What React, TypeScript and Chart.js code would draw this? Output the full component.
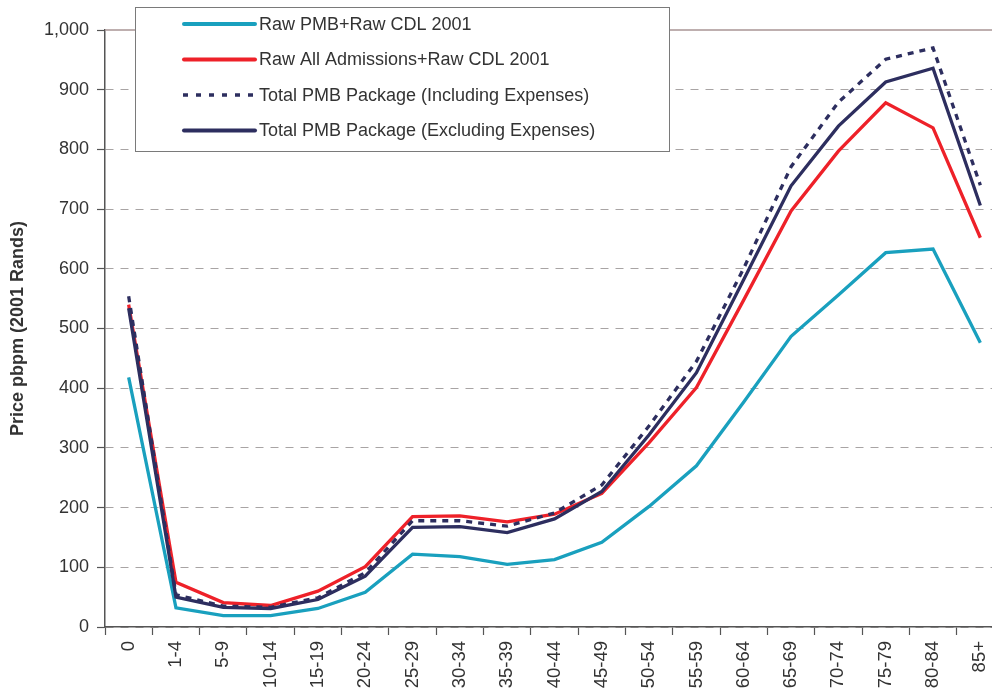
import React, { useEffect, useRef } from "react";
import { Chart, registerables } from "chart.js";

Chart.register(...registerables);

const categories = ["0", "1-4", "5-9", "10-14", "15-19", "20-24", "25-29", "30-34", "35-39", "40-44", "45-49", "50-54", "55-59", "60-64", "65-69", "70-74", "75-79", "80-84", "85+"];

const rawPmb = [418, 32, 19, 19, 31, 58, 122, 118, 105, 113, 142, 202, 270, 377, 487, 556, 627, 633, 476];
const rawAllAdmissions = [540, 75, 41, 36, 60, 101, 185, 186, 176, 189, 224, 309, 401, 548, 697, 797, 878, 836, 652];
const totalIncl = [554, 54, 35, 33, 49, 91, 178, 178, 169, 191, 238, 337, 445, 601, 771, 879, 951, 970, 740];
const totalExcl = [534, 50, 33, 31, 46, 85, 167, 168, 158, 181, 227, 322, 426, 582, 739, 839, 913, 936, 706];

const seriesLabels = [
  "Raw PMB+Raw CDL 2001",
  "Raw All Admissions+Raw CDL 2001",
  "Total PMB Package (Including Expenses)",
  "Total PMB Package (Excluding Expenses)",
];

const yTicks = [0, 100, 200, 300, 400, 500, 600, 700, 800, 900, 1000];

const FONT = "'Liberation Sans', Arial, Helvetica, sans-serif";
const TEAL = "#19a0be";
const RED = "#ee2129";
const NAVY = "#2d2e5f";

const legendPlugin = {
  id: "boxLegend",
  afterDraw(chart: any) {
    const ctx = chart.ctx;
    ctx.save();
    ctx.fillStyle = "#ffffff";
    ctx.fillRect(135, 7, 534, 144);
    ctx.strokeStyle = "#7a7a7a";
    ctx.lineWidth = 1;
    ctx.strokeRect(135.5, 7.5, 534, 144);
    const dsList = chart.data.datasets;
    ctx.font = `18px ${FONT}`;
    ctx.textBaseline = "middle";
    ctx.textAlign = "left";
    dsList.forEach((ds: any, i: number) => {
      const y = 24 + i * 35.5;
      const dashed = ds.borderDash && ds.borderDash.length;
      ctx.beginPath();
      ctx.strokeStyle = ds.borderColor;
      ctx.lineWidth = dashed ? 3.5 : 4;
      ctx.lineCap = dashed ? "butt" : "round";
      ctx.setLineDash(dashed ? [5, 8] : []);
      ctx.moveTo(dashed ? 183 : 184, y);
      ctx.lineTo(255, y);
      ctx.stroke();
      ctx.setLineDash([]);
      ctx.fillStyle = "#333333";
      ctx.fillText(ds.label, 259, y + 1);
    });
    ctx.restore();
  },
};

const topLinePlugin = {
  id: "topLine",
  beforeDatasetsDraw(chart: any) {
    const { ctx, chartArea } = chart;
    const y = chart.scales.y.getPixelForValue(1000);
    ctx.save();
    ctx.strokeStyle = "#a89494";
    ctx.lineWidth = 1.5;
    ctx.beginPath();
    ctx.moveTo(chartArea.left, y);
    ctx.lineTo(chartArea.right, y);
    ctx.stroke();
    ctx.restore();
  },
};

export default function App() {
  const ref = useRef<HTMLCanvasElement | null>(null);
  useEffect(() => {
    if (!ref.current) return;
    const chart = new Chart(ref.current, {
      type: "line",
      data: {
        labels: categories,
        datasets: [
          { label: seriesLabels[0], data: rawPmb, borderColor: TEAL, backgroundColor: TEAL, borderWidth: 3.3, pointRadius: 0, tension: 0, order: 4 },
          { label: seriesLabels[1], data: rawAllAdmissions, borderColor: RED, backgroundColor: RED, borderWidth: 3.3, pointRadius: 0, tension: 0, order: 3 },
          { label: seriesLabels[2], data: totalIncl, borderColor: NAVY, backgroundColor: NAVY, borderWidth: 3.3, borderDash: [6, 6], pointRadius: 0, tension: 0, order: 2 },
          { label: seriesLabels[3], data: totalExcl, borderColor: NAVY, backgroundColor: NAVY, borderWidth: 3.3, pointRadius: 0, tension: 0, order: 1 },
        ],
      },
      options: {
        responsive: false,
        animation: false,
        layout: { padding: { top: 30, right: 8, left: 0, bottom: 0 } },
        plugins: { legend: { display: false }, tooltip: { enabled: false }, title: { display: false } },
        scales: {
          x: {
            type: "category",
            offset: true,
            grid: { offset: true, drawOnChartArea: false, drawTicks: true, tickLength: 8, tickColor: "#555555", tickWidth: 1.2 },
            border: { color: "#555555", width: 1.5 },
            ticks: {
              color: "#333333",
              font: { family: FONT, size: 18.5 },
              minRotation: 90,
              maxRotation: 90,
              autoSkip: false,
              padding: 6,
            },
            afterFit(scale: any) {
              scale.height = 63;
            },
          },
          y: {
            min: 0,
            max: 1000,
            afterBuildTicks(scale: any) {
              scale.ticks = yTicks.map((v) => ({ value: v }));
            },
            grid: {
              color: (c: any) => (c.tick && c.tick.value === 1000 ? "rgba(0,0,0,0)" : "#a8a4a4"),
              lineWidth: 1,
              drawTicks: true,
              tickLength: 8,
              tickColor: "#555555",
              tickWidth: 1.2,
            },
            border: { color: "#555555", width: 1.5, dash: [8, 7] },
            ticks: {
              color: "#333333",
              font: { family: FONT, size: 18 },
              padding: 8,
              callback: (v: any) => Number(v).toLocaleString("en-US"),
            },
            title: {
              display: true,
              text: "Price pbpm (2001 Rands)",
              color: "#333333",
              font: { family: FONT, size: 18, weight: "bold" },
              padding: { top: 7, bottom: 0 },
            },
            afterFit(scale: any) {
              scale.width = 105;
            },
          },
        },
      },
      plugins: [topLinePlugin, legendPlugin],
    });
    return () => chart.destroy();
  }, []);
  return (
    <div style={{ position: "fixed", left: 0, top: 0, width: 992, height: 690, overflow: "hidden", background: "#fff" }}>
      <canvas ref={ref} width={1012} height={690} style={{ width: 1012, height: 690, display: "block" }} />
    </div>
  );
}
